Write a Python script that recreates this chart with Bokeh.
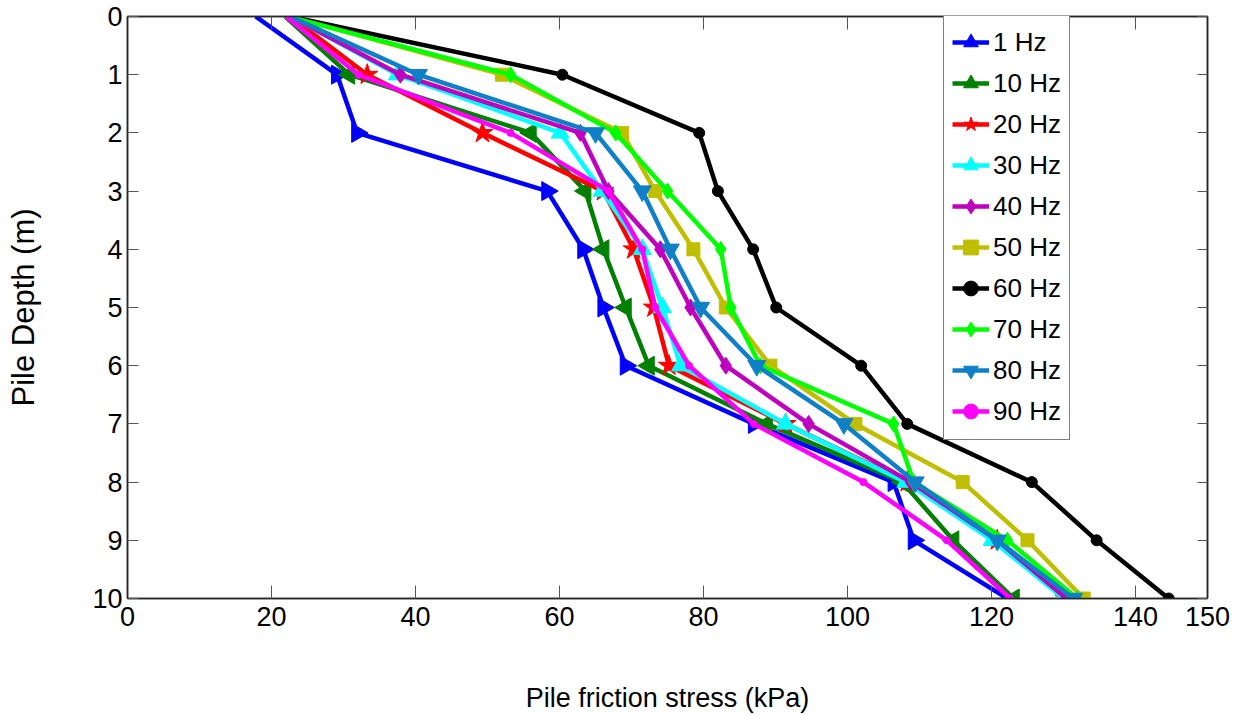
import numpy as np
from bokeh.plotting import figure
from bokeh.models import (Range1d, LinearAxis, FixedTicker, Legend, LegendItem,
                          ColumnDataSource, CustomLabelingPolicy)
from bokeh.embed import file_html
from bokeh.resources import INLINE

depth = [0, 1, 2, 3, 4, 5, 6, 7, 8, 9, 10]
series_labels = ["1 Hz", "10 Hz", "20 Hz", "30 Hz", "40 Hz", "50 Hz", "60 Hz", "70 Hz", "80 Hz", "90 Hz"]

f1 = [17.8, 29.1, 31.9, 58.3, 63.3, 66.1, 69.2, 87.0, 106.4, 109.2, 122.2]
f10 = [21.9, 30.8, 56.0, 63.6, 66.1, 69.2, 72.4, 88.8, 107.6, 114.7, 123.1]
f20 = [22.6, 33.3, 49.3, 66.1, 70.3, 73.1, 75.2, 91.4, 108.3, 120.8, 130.3]
f30 = [22.6, 37.5, 60.1, 65.9, 71.5, 74.3, 76.8, 91.4, 108.1, 120.1, 130.0]
f40 = [22.6, 37.9, 62.9, 66.8, 74.0, 78.2, 83.1, 94.6, 108.8, 120.8, 130.4]
f50 = [22.6, 52.0, 68.7, 73.3, 78.6, 83.1, 89.3, 101.1, 116.0, 125.0, 132.8]
f60 = [22.6, 60.4, 79.4, 82.0, 86.9, 90.1, 101.9, 108.3, 125.6, 134.6, 144.6]
f70 = [22.3, 53.2, 67.8, 75.0, 82.4, 83.8, 87.9, 106.4, 109.2, 122.2, 131.9]
f80 = [22.6, 40.4, 65.0, 71.5, 75.4, 79.6, 87.4, 99.5, 109.4, 120.8, 131.4]
f90 = [22.0, 32.1, 53.2, 66.8, 71.5, 73.3, 78.0, 87.0, 102.2, 113.8, 122.6]

x_ticks = [0, 20, 40, 60, 80, 100, 120, 140, 150]
y_ticks = [0, 1, 2, 3, 4, 5, 6, 7, 8, 9, 10]

all_series = [f1, f10, f20, f30, f40, f50, f60, f70, f80, f90]
colors = ["#0000FF", "#008000", "#FF0000", "#00FFFF", "#BF00BF",
          "#BFBF00", "#000000", "#00FF00", "#0F80C8", "#FF00FF"]
markers = ["triangle", "triangle", "star", "triangle", "diamond",
           "square", "circle", "diamond", "inverted_triangle", "circle"]
angles = [-np.pi / 2, np.pi / 2, 0, 0, 0, 0, 0, 0, 0, 0]
sizes = [19, 19, 22, 18, 17, 13, 11, 16, 18, 7]

FONT = "Liberation Sans"
HIDE = "for (const i of indices) { indices.unset(i) } return indices"

p = figure(width=1247, height=715, output_backend="svg", toolbar_location=None,
           x_range=Range1d(0, 150), y_range=Range1d(10, 0),
           min_border_left=127, min_border_right=40, min_border_top=14, min_border_bottom=116)
p.xgrid.visible = False
p.ygrid.visible = False
p.outline_line_color = "#262626"
p.outline_line_width = 1.5

p.xaxis.ticker = FixedTicker(ticks=x_ticks)
p.yaxis.ticker = FixedTicker(ticks=y_ticks)
for ax in [p.xaxis[0], p.yaxis[0]]:
    ax.major_tick_out = 0
    ax.minor_tick_in = 0
    ax.minor_tick_out = 0
    ax.axis_line_color = "#262626"
    ax.axis_line_width = 1.5
    ax.major_tick_line_color = "#555555"
    ax.major_label_text_font = FONT
    ax.major_label_text_font_size = "27px"
    ax.major_label_text_color = "black"
    ax.axis_label_text_font = FONT
    ax.axis_label_text_font_style = "normal"
    ax.axis_label_text_color = "black"
p.xaxis.major_tick_in = 13
p.yaxis.major_tick_in = 11
p.xaxis.axis_label = "Pile friction stress (kPa)"
p.xaxis.axis_label_text_font_size = "27px"
p.xaxis.major_label_standoff = 8
p.xaxis.axis_label_standoff = 54
p.yaxis.axis_label = "Pile Depth (m)"
p.yaxis.axis_label_text_font_size = "31px"
p.yaxis.major_label_standoff = 5
p.yaxis.axis_label_standoff = 48

top_ax = LinearAxis(ticker=FixedTicker(ticks=x_ticks),
                    major_label_policy=CustomLabelingPolicy(code=HIDE),
                    major_tick_in=13, major_tick_out=0, minor_tick_in=0, minor_tick_out=0,
                    axis_line_color="#262626", axis_line_width=1.5, major_tick_line_color="#555555")
right_ax = LinearAxis(ticker=FixedTicker(ticks=y_ticks),
                      major_label_policy=CustomLabelingPolicy(code=HIDE),
                      major_tick_in=10, major_tick_out=0, minor_tick_in=0, minor_tick_out=0,
                      axis_line_color="#262626", axis_line_width=1.5, major_tick_line_color="#555555")
p.add_layout(top_ax, "above")
p.add_layout(right_ax, "right")

items = []
for vals, lab, col, mk, ang, sz in zip(all_series, series_labels, colors, markers, angles, sizes):
    lr = p.line(vals, depth, line_color=col, line_width=4.5)
    src = ColumnDataSource(dict(x=vals[1:], y=depth[1:], a=[ang] * (len(vals) - 1)))
    sr = p.scatter("x", "y", source=src, marker=mk, angle="a", size=sz,
                   fill_color=col, line_color=col, line_width=1)
    items.append(LegendItem(label=lab, renderers=[lr, sr], index=0))

legend = Legend(items=items, location=(816, 158))
legend.border_line_color = "black"
legend.border_line_width = 1
legend.background_fill_color = "white"
legend.background_fill_alpha = 1
legend.label_text_font = FONT
legend.label_text_font_size = "26px"
legend.label_text_color = "black"
legend.glyph_width = 37
legend.glyph_height = 40
legend.label_height = 30
legend.spacing = 1
legend.padding = 8
legend.margin = 0
legend.label_standoff = 4
p.add_layout(legend)

open("out.html", "w").write(file_html(p, INLINE))
